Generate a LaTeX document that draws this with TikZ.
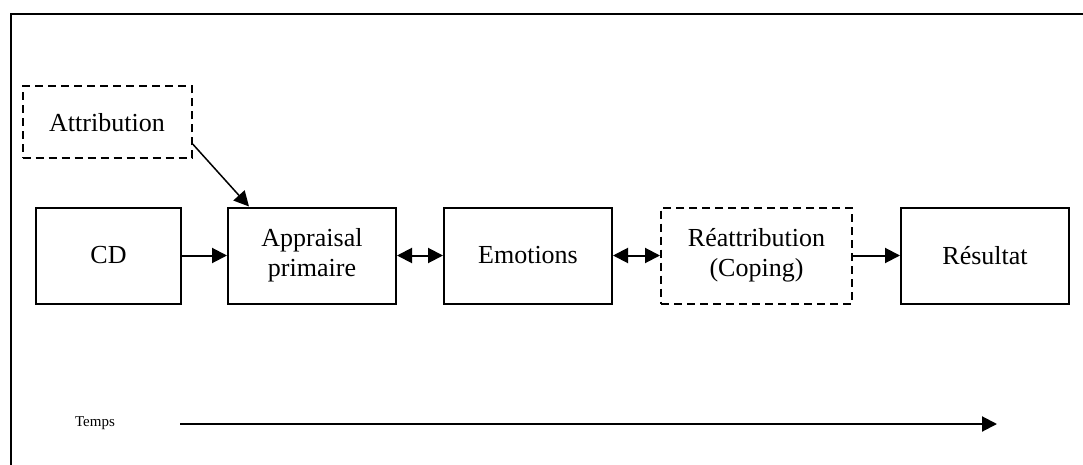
\documentclass[tikz,border=0pt]{standalone}
\usepackage{fontspec}
\setmainfont{Liberation Serif}
\usetikzlibrary{arrows.meta,calc}
\begin{document}
\begin{tikzpicture}[x=1pt,y=-1pt,
  box/.style={draw,line width=2pt,inner sep=0pt,minimum height=96pt,
    align=center,font=\fontsize{26}{30}\selectfont},
  dbox/.style={box,dash pattern=on 8pt off 5pt},
  tip/.tip={Triangle[length=15pt,width=15pt]},
  link/.style={line width=2pt,-tip},
  both/.style={line width=2pt,tip-tip},
]
\useasboundingbox (0,0) rectangle (1083,465);
% outer frame (top and left sides)
\draw[line width=2pt] (11,465) -- (11,14) -- (1083,14);

\node[dbox,minimum width=169pt,minimum height=72pt] (attr) at (107,122.5) {Attribution};
\node[box,minimum width=145pt] (cd)  at (108.5,255.5) {CD};
\node[box,minimum width=168pt] (app) at (312,255.5) {Appraisal\\primaire};
\node[box,minimum width=168pt] (emo) at (528,255.5) {Emotions};
\node[dbox,minimum width=191pt] (rea) at (756.5,255.5) {Réattribution\\(Coping)};
\node[box,minimum width=168pt] (res) at (985,255.5) {Résultat};

\draw[link,line width=1.5pt] (attr.-14) -- ($(app.north west)+(22,0)$);
\draw[link] (cd) -- (app);
\draw[both] (app) -- (emo);
\draw[both] (emo) -- (rea);
\draw[link] (rea) -- (res);

% time axis
\node[font=\fontsize{15}{18}\selectfont] (temps) at (95,423) {Temps};
\coordinate (t0) at (180,424);
\coordinate (t1) at (997,424);
\draw[link] (t0) -- (t1);
\end{tikzpicture}
\end{document}
